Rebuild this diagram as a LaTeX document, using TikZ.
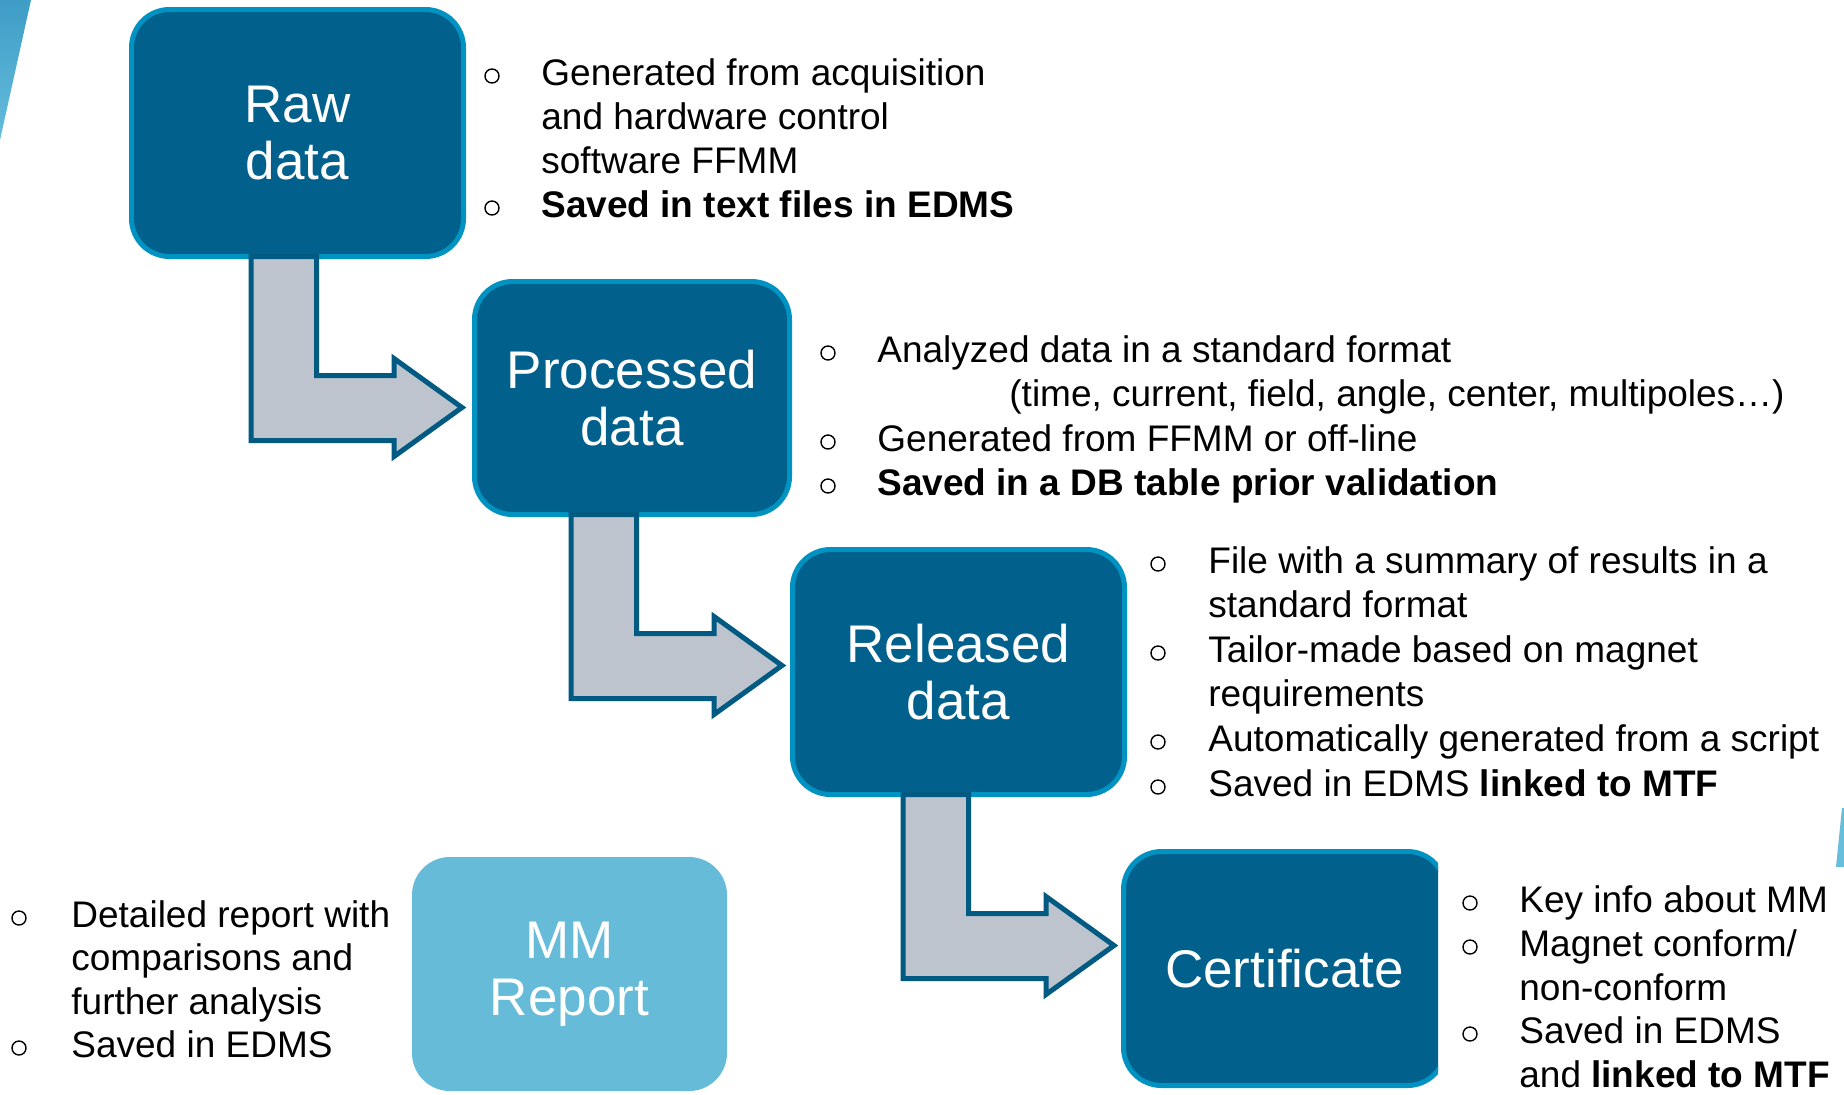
\documentclass[tikz,border=0pt]{standalone}
\usepackage{fontspec}
\setmainfont{Liberation Sans}
\usetikzlibrary{calc}
\definecolor{boxfill}{HTML}{02608C}
\definecolor{boxline}{HTML}{0093C2}
\definecolor{arrfill}{HTML}{BDC4CE}
\definecolor{arrline}{HTML}{005A82}
\definecolor{mmfill}{HTML}{66BBD9}
\definecolor{wedgeA}{HTML}{3E9DC6}
\definecolor{wedgeB}{HTML}{66BDDC}
\newcommand\bentarrowpath[1]{%
  \draw[bentarrow] (#1) -- ++(0,184) -- ++(143,0) -- ++(0,16) -- ++(68,-49)
    -- ++(-68,-49) -- ++(0,17) -- ++(-77.5,0) -- ++(0,-119) -- cycle;}
\begin{document}
\begin{tikzpicture}[x=0.5pt,y=-0.5pt,
  stagebox/.style={draw=boxline, line width=2.5pt, fill=boxfill, rounded corners=19pt,
    text=white, align=center, font=\fontsize{26.5}{28.5}\selectfont, inner sep=0pt, outer sep=0pt},
  reportbox/.style={fill=mmfill, rounded corners=19pt, text=white, align=center,
    font=\fontsize{26.5}{28.5}\selectfont, inner sep=0pt, outer sep=0pt},
  bentarrow/.style={draw=arrline, line width=2.5pt, fill=arrfill},
  item/.style={anchor=base west, inner sep=0pt, font=\fontsize{18.5}{22}\selectfont},
  bul/.style={circle, draw=black, line width=0.7pt, minimum size=7pt, inner sep=0pt, yshift=4.5pt}]
\useasboundingbox (0,0) rectangle (1844,1094);
\fill[white] (0,0) rectangle (1844,1094);
% decorative wedges
\shade[top color=wedgeA, bottom color=wedgeB] (0,0) -- (31,0) -- (0,140) -- cycle;
\fill[wedgeB] (1842,808) -- (1844,808) -- (1844,867) -- (1836,867) -- cycle;

% stage boxes
\node[stagebox, minimum width=166pt, minimum height=123.5pt] (raw) at (297.5,133) {Raw\\data};
\node[stagebox, minimum width=157.5pt, minimum height=116.5pt] (proc) at (632,398) {Processed\\data};
\node[stagebox, minimum width=166pt, minimum height=122.5pt] (rel) at (958.5,672) {Released\\data};
\begin{scope}
  \clip (0,0) rectangle (1438,1094);
  \node[stagebox, minimum width=161pt, minimum height=117pt] (cert) at (1284.5,968.5) {Certificate};
\end{scope}
\node[reportbox, minimum width=157.5pt, minimum height=117pt] (mm) at (569.5,974) {MM\\Report};

% bent arrows
\coordinate (a1) at ($(raw.south west)+(119.5,0)$);
\coordinate (a2) at ($(proc.south west)+(96.5,0)$);
\coordinate (a3) at ($(rel.south west)+(110.5,0)$);
\bentarrowpath{a1}
\bentarrowpath{a2}
\bentarrowpath{a3}

% block 1
\node[bul] (b1a) at (492,85) {};
\node[item] (t1a) at (541,85) {Generated from acquisition};
\node[item] (t1b) at (541,129) {and hardware control};
\node[item] (t1c) at (541,173) {software FFMM};
\node[bul] (b1b) at (492,217) {};
\node[item] (t1d) at (541,217) {\bfseries Saved in text files in EDMS};

% block 2
\node[bul] (b2a) at (828,362) {};
\node[item] (t2a) at (877,362) {Analyzed data in a standard format};
\node[item] (t2b) at (1009,406) {(time, current, field, angle, center, multipoles…)};
\node[bul] (b2b) at (828,451) {};
\node[item] (t2c) at (877,451) {Generated from FFMM or off-line};
\node[bul] (b2c) at (828,495) {};
\node[item] (t2d) at (877,495) {\bfseries Saved in a DB table prior validation};

% block 3
\node[bul] (b3a) at (1158,573) {};
\node[item] (t3a) at (1208,573) {File with a summary of results in a};
\node[item] (t3b) at (1208,617) {standard format};
\node[bul] (b3b) at (1158,662) {};
\node[item] (t3c) at (1208,662) {Tailor-made based on magnet};
\node[item] (t3d) at (1208,706) {requirements};
\node[bul] (b3c) at (1158,751) {};
\node[item] (t3e) at (1208,751) {Automatically generated from a script};
\node[bul] (b3d) at (1158,796) {};
\node[item] (t3f) at (1208,796) {Saved in EDMS \textbf{linked to MTF}};

% block 4
\node[bul] (b4a) at (1470,912) {};
\node[item] (t4a) at (1519,912) {Key info about MM};
\node[bul] (b4b) at (1470,956) {};
\node[item] (t4b) at (1519,956) {Magnet conform/};
\node[item] (t4c) at (1519,1000) {non-conform};
\node[bul] (b4c) at (1470,1043) {};
\node[item] (t4d) at (1519,1043) {Saved in EDMS};
\node[item] (t4e) at (1519,1087) {and \textbf{linked to MTF}};

% block 5
\node[bul] (b5a) at (19,927) {};
\node[item] (t5a) at (71,927) {Detailed report with};
\node[item] (t5b) at (71,970) {comparisons and};
\node[item] (t5c) at (71,1014) {further analysis};
\node[bul] (b5b) at (19,1057) {};
\node[item] (t5d) at (71,1057) {Saved in EDMS};
\end{tikzpicture}
\end{document}
